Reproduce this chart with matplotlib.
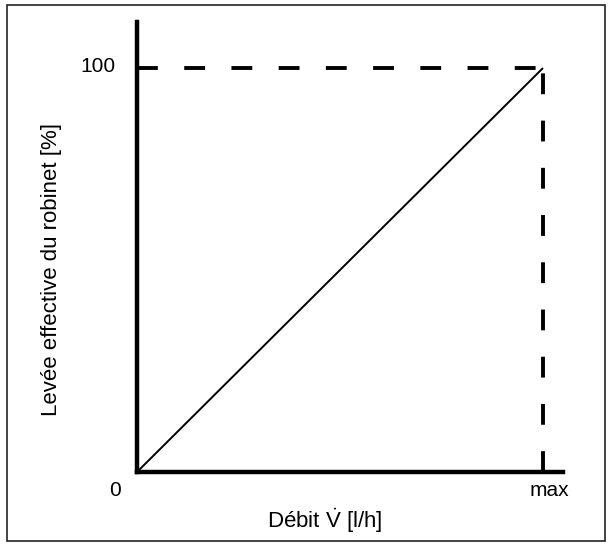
import matplotlib
matplotlib.use("Agg")
import matplotlib.pyplot as plt
from matplotlib.patches import Rectangle

plt.rcParams["font.family"] = ["Liberation Sans", "DejaVu Sans"]
plt.rcParams["mathtext.fontset"] = "custom"
plt.rcParams["mathtext.rm"] = "Liberation Sans"
plt.rcParams["mathtext.it"] = "Liberation Sans"
plt.rcParams["lines.scale_dashes"] = False

# characteristic: flow (0..max) vs effective valve lift (0..100 %)
flow = [0, 1]
lift = [0, 100]
x_labels = ["0", "max"]
y_label_top = "100"

fig = plt.figure(figsize=(6.11, 5.48), dpi=100)
W, H = 611, 548
# axes box in pixels: left 137, right 563, bottom 472, top 22
ax = fig.add_axes([137 / W, (H - 472) / H, (563 - 137) / W, (472 - 22) / H])

ax.plot(flow, lift, color="black", lw=1.4, solid_capstyle="butt")
ax.plot([flow[0], flow[1]], [lift[1], lift[1]], color="black", lw=2.8,
        dashes=(15, 19), dash_capstyle="butt")
ax.plot([flow[1], flow[1]], [lift[0], lift[1]], color="black", lw=2.8,
        dashes=(15, 19), dash_capstyle="butt")

ax.set_xlim(0, 426 / 406)
ax.set_ylim(0, 100 * 450 / 404)
for s in ("top", "right"):
    ax.spines[s].set_visible(False)
for s in ("left", "bottom"):
    ax.spines[s].set_linewidth(3.2)
ax.set_xticks([])
ax.set_yticks([])

fs = 15
fs_lab = 16
fig.text(115 / W, 1 - 490 / H, x_labels[0], ha="center", va="center", fontsize=fs)
fig.text(549 / W, 1 - 491 / H, x_labels[1], ha="center", va="center", fontsize=fs)
fig.text(116 / W, 1 - 66 / H, y_label_top, ha="right", va="center", fontsize=fs)

fig.text(325 / W, 1 - 521 / H, r"Débit $\dot{\mathrm{V}}$ [l/h]", ha="center", va="center",
         fontsize=fs_lab)
fig.text(52 / W, 1 - 269 / H, "Levée effective du robinet [%]", rotation=90,
         ha="center", va="center", fontsize=fs_lab)

fig.patches.append(Rectangle((7 / W, 1 - 541 / H), 598 / W, 536 / H,
                             transform=fig.transFigure, fill=False,
                             edgecolor="#222222", lw=1.2))

fig.savefig("out.png", dpi=100)
